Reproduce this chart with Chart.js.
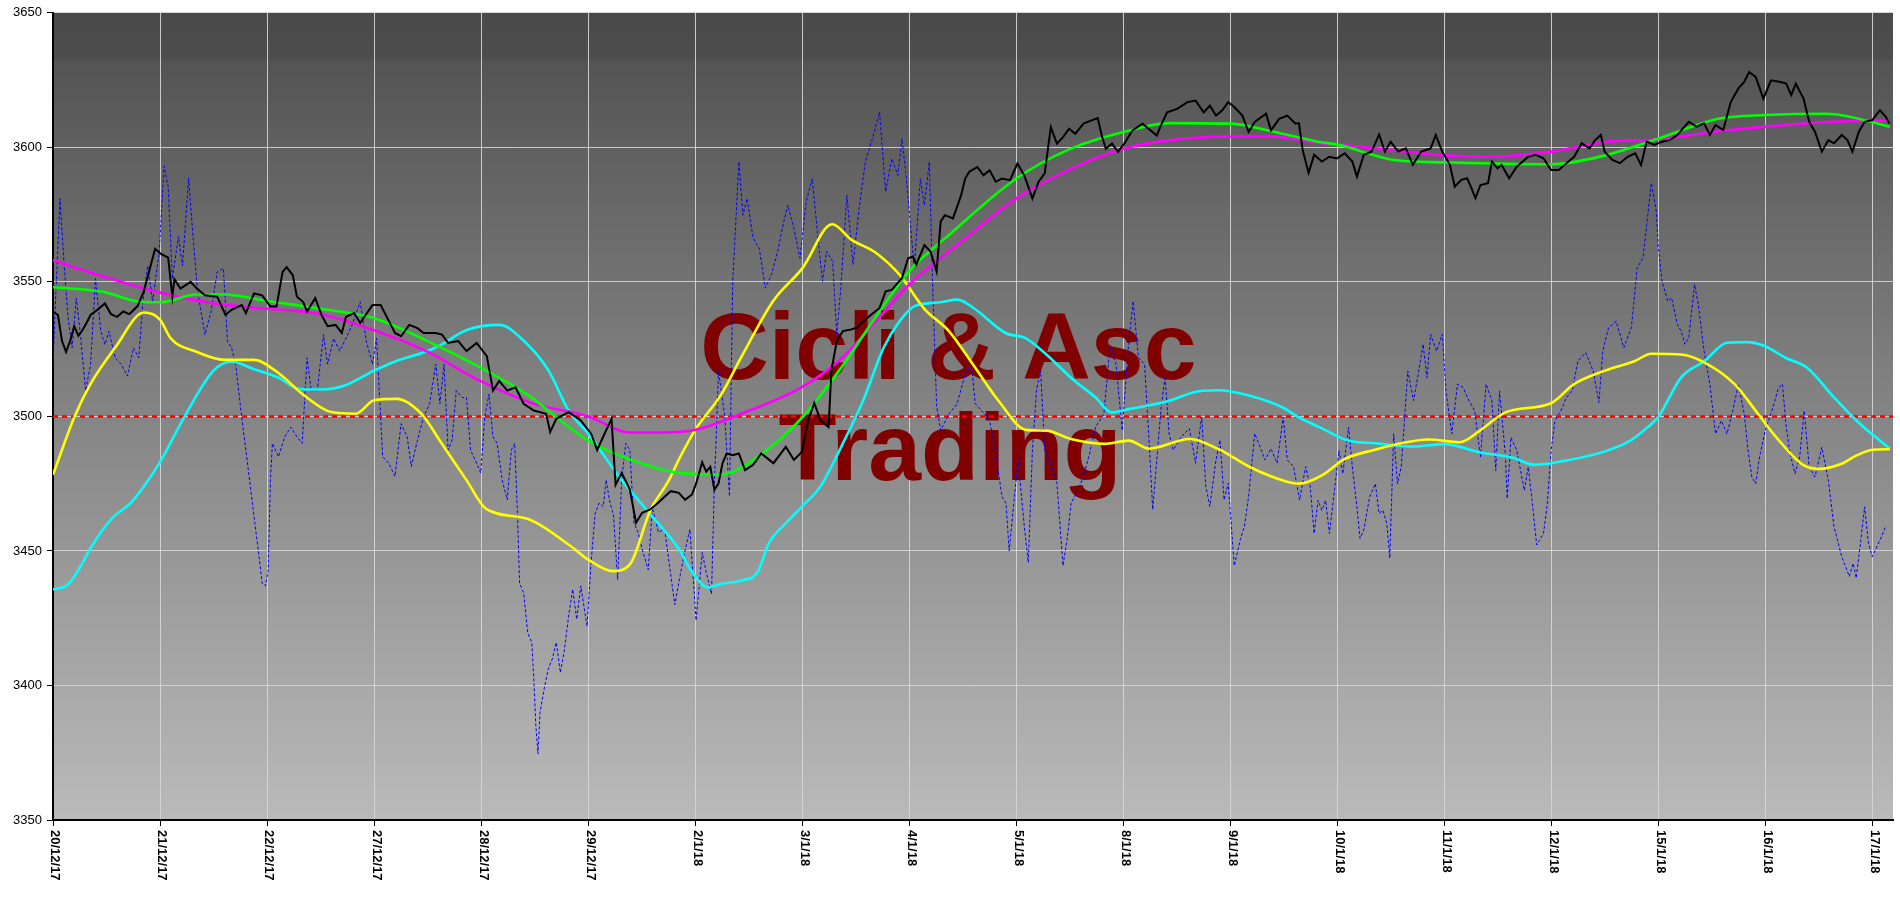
<!DOCTYPE html>
<html>
<head>
<meta charset="utf-8">
<script src="https://cdn.jsdelivr.net/npm/chart.js@4.4.1/dist/chart.umd.min.js"></script>
<style>
html,body{margin:0;padding:0;background:#fff;}
#wrap{width:1900px;height:899px;position:relative;}
</style>
</head>
<body>
<div id="wrap"><canvas id="c"></canvas></div>
<script>
// ---- Data (x = trading-day index, y = index level) ----
const dayLabels = ['20/12/17','21/12/17','22/12/17','27/12/17','28/12/17','29/12/17','2/1/18','3/1/18','4/1/18','5/1/18','8/1/18','9/1/18','10/1/18','11/1/18','12/1/18','15/1/18','16/1/18','17/1/18'];
const yTicks = [3350,3400,3450,3500,3550,3600,3650];
const xEnd = 17.19;
const refLevel = 3500;
const watermark = ['Cicli & Asc','Trading'];

const priceData = [
[0,3539],[0.046,3537.7],[0.084,3528],[0.122,3524],[0.16,3528],[0.198,3533.5],[0.237,3530],[0.275,3532],[0.313,3534.7],[0.351,3537.7],[0.427,3540],[0.485,3542],[0.542,3538],[0.599,3537],[0.656,3539],[0.714,3538],[0.79,3541],[0.847,3546.3],[0.905,3555],[0.954,3562.3],[1.008,3560.4],[1.076,3559],[1.115,3544.5],[1.134,3551],[1.191,3547.5],[1.286,3550],[1.344,3547.5],[1.42,3545],[1.534,3544.5],[1.611,3537.7],[1.668,3539.6],[1.763,3541.4],[1.802,3538.4],[1.878,3545.7],[1.954,3545],[2.031,3540.8],[2.088,3540.8],[2.145,3553.7],[2.183,3555.5],[2.24,3552.5],[2.279,3544.5],[2.336,3542.6],[2.374,3539],[2.45,3544],[2.508,3537.7],[2.565,3533.5],[2.641,3534],[2.698,3531],[2.737,3537],[2.813,3538.4],[2.87,3534.7],[2.985,3541.4],[3.061,3541.4],[3.118,3537],[3.195,3531],[3.252,3529.8],[3.328,3534],[3.405,3532.8],[3.462,3531],[3.576,3531],[3.634,3530.4],[3.691,3527.3],[3.786,3528],[3.863,3524.3],[3.958,3527.3],[4.053,3522.4],[4.111,3509.6],[4.168,3513.2],[4.244,3509.6],[4.321,3510.8],[4.397,3504.7],[4.492,3502.2],[4.607,3501],[4.645,3494.2],[4.702,3499.1],[4.817,3501.6],[4.931,3498.5],[5.027,3493.6],[5.084,3487.5],[5.16,3494.2],[5.218,3499],[5.256,3474.6],[5.313,3479],[5.389,3472.8],[5.447,3460.5],[5.504,3464.2],[5.58,3465.4],[5.656,3468],[5.771,3472.2],[5.847,3471.6],[5.905,3469],[5.97,3471],[6.008,3475],[6.065,3483],[6.103,3479.5],[6.141,3481.3],[6.179,3472.7],[6.217,3475],[6.255,3482.6],[6.293,3486.2],[6.35,3485.6],[6.408,3486.2],[6.465,3480],[6.541,3482],[6.617,3486.2],[6.674,3484.4],[6.731,3482.6],[6.846,3488.7],[6.922,3483.8],[6.998,3486.9],[7.055,3498.5],[7.112,3505],[7.17,3498.5],[7.246,3496],[7.272,3516.9],[7.322,3528],[7.379,3531.7],[7.455,3532.3],[7.512,3533],[7.57,3535.4],[7.646,3537.9],[7.722,3540.3],[7.779,3546.5],[7.836,3547],[7.931,3551.4],[7.989,3558.8],[8.034,3559.4],[8.065,3556.4],[8.141,3563.7],[8.198,3561.3],[8.255,3553.9],[8.293,3572.4],[8.331,3574.8],[8.408,3573.6],[8.484,3582.2],[8.522,3588.4],[8.56,3590.9],[8.636,3592.7],[8.693,3589.6],[8.75,3591.5],[8.808,3587.2],[8.865,3588.4],[8.941,3587.8],[9.01,3594],[9.074,3589.6],[9.15,3581],[9.208,3587.2],[9.265,3590.3],[9.322,3607.5],[9.379,3601.4],[9.436,3603.8],[9.493,3606.9],[9.55,3605],[9.627,3608.8],[9.703,3610],[9.76,3610.9],[9.798,3604.4],[9.836,3599.5],[9.893,3601.4],[9.95,3598.3],[10.008,3601.4],[10.084,3606.3],[10.179,3608.8],[10.236,3606.9],[10.312,3604.4],[10.35,3608.1],[10.408,3613],[10.503,3614.3],[10.598,3616.8],[10.674,3617.4],[10.75,3613],[10.808,3615.5],[10.865,3611.8],[10.922,3613.7],[10.979,3616.8],[11.036,3615],[11.112,3611.8],[11.17,3605.7],[11.227,3609.4],[11.333,3612.5],[11.379,3606.3],[11.455,3610.6],[11.531,3611.8],[11.608,3608.8],[11.64,3609],[11.675,3599],[11.73,3590.5],[11.782,3597.2],[11.854,3594.7],[11.925,3596.5],[11.996,3595.9],[12.068,3597.8],[12.139,3594.7],[12.182,3589.1],[12.246,3597.2],[12.318,3598.4],[12.389,3604.8],[12.443,3598.4],[12.496,3602.1],[12.568,3598.4],[12.639,3599.6],[12.704,3593.5],[12.782,3598.4],[12.871,3599.6],[12.918,3604.6],[12.979,3598.4],[13.05,3593.5],[13.096,3585.4],[13.157,3587.9],[13.211,3588.5],[13.246,3585.4],[13.289,3581.1],[13.336,3586],[13.407,3586.7],[13.443,3594.7],[13.496,3592.2],[13.532,3593.5],[13.604,3588.5],[13.675,3592.8],[13.782,3596.5],[13.854,3597.2],[13.925,3595.9],[13.996,3591.6],[14.068,3591.6],[14.139,3594.1],[14.211,3596.5],[14.282,3601.5],[14.354,3599.6],[14.407,3602.7],[14.461,3604.6],[14.496,3598.4],[14.568,3595.3],[14.639,3594.1],[14.711,3596.5],[14.782,3597.8],[14.836,3593.5],[14.889,3602.1],[14.961,3600.9],[15.032,3602.1],[15.104,3602.7],[15.175,3604.6],[15.282,3609.5],[15.354,3607.7],[15.425,3608.9],[15.479,3604.6],[15.532,3608.3],[15.604,3606.4],[15.675,3616.9],[15.746,3621.9],[15.8,3624.3],[15.846,3628],[15.907,3626.2],[15.979,3618.1],[16.05,3624.9],[16.139,3624.3],[16.193,3623.7],[16.239,3619.4],[16.282,3623.7],[16.354,3618.1],[16.407,3609.5],[16.461,3605.8],[16.525,3598.4],[16.586,3602.7],[16.639,3601.5],[16.711,3604.6],[16.764,3602.7],[16.811,3598.4],[16.871,3605.8],[16.925,3609.5],[16.996,3610.1],[17.068,3613.8],[17.121,3611.4],[17.157,3608.9]
];

const oscData = [
[0,3519.4],[0.027,3546],[0.065,3581],[0.103,3557],[0.141,3536.5],[0.179,3525.5],[0.218,3544],[0.256,3530.4],[0.305,3509.6],[0.351,3519.4],[0.397,3551.2],[0.447,3531.6],[0.485,3526.7],[0.523,3531.6],[0.58,3521.8],[0.637,3519.4],[0.695,3515],[0.752,3525.5],[0.802,3521.8],[0.84,3542.6],[0.885,3556],[0.931,3542.6],[0.992,3561],[1.038,3593],[1.076,3585.5],[1.115,3551.2],[1.172,3567],[1.21,3556],[1.267,3588.6],[1.305,3568.4],[1.351,3546.3],[1.42,3530.4],[1.477,3539],[1.534,3553.7],[1.592,3555],[1.63,3528],[1.668,3525.5],[1.706,3519.4],[1.763,3499.8],[1.821,3481.4],[1.859,3469],[1.916,3450.7],[1.954,3438],[1.985,3437],[2.011,3443],[2.031,3476],[2.05,3490],[2.107,3485],[2.164,3492.4],[2.221,3496],[2.279,3492.4],[2.328,3490],[2.374,3521.8],[2.412,3509.6],[2.469,3509.6],[2.527,3530.4],[2.565,3519.4],[2.622,3529],[2.679,3524.3],[2.737,3529],[2.794,3534],[2.87,3542.6],[2.927,3528],[2.985,3519.4],[3.023,3529],[3.08,3485],[3.137,3482.6],[3.195,3477.7],[3.252,3497.3],[3.309,3492.4],[3.347,3481.4],[3.405,3491.2],[3.462,3499.8],[3.519,3504.7],[3.576,3519.4],[3.615,3504.7],[3.653,3519.4],[3.691,3487.5],[3.729,3491.2],[3.767,3509.6],[3.824,3507],[3.863,3507],[3.901,3487.5],[3.958,3482.6],[3.996,3479],[4.034,3499.8],[4.073,3508.3],[4.111,3492.4],[4.149,3490],[4.198,3476],[4.244,3469],[4.282,3487.5],[4.313,3490],[4.34,3463],[4.359,3438],[4.397,3434.4],[4.435,3419.6],[4.473,3416],[4.492,3402.3],[4.511,3385],[4.531,3374.6],[4.55,3390],[4.588,3398.6],[4.626,3406],[4.664,3409.8],[4.702,3416],[4.74,3404.8],[4.779,3413.5],[4.817,3425.8],[4.855,3435.7],[4.893,3424.6],[4.931,3437],[4.989,3422],[5.027,3445.6],[5.065,3464],[5.103,3467.8],[5.141,3466.5],[5.168,3476.4],[5.198,3469],[5.237,3463],[5.275,3439.4],[5.313,3476.5],[5.351,3490],[5.389,3487.5],[5.427,3460.5],[5.466,3456.9],[5.504,3450.7],[5.561,3443],[5.599,3466],[5.656,3457],[5.714,3458],[5.809,3430],[5.855,3440],[5.893,3448],[5.95,3458],[6.008,3424.2],[6.065,3449.4],[6.103,3442],[6.152,3434],[6.179,3475],[6.198,3494.7],[6.217,3516.9],[6.274,3500.9],[6.32,3470.3],[6.35,3550.2],[6.408,3594.6],[6.446,3574.8],[6.484,3581],[6.541,3566.2],[6.598,3562.5],[6.655,3547.7],[6.712,3552.7],[6.77,3561.3],[6.827,3572.4],[6.865,3578.5],[6.922,3569.9],[6.979,3558.8],[7.036,3579.8],[7.093,3588.4],[7.15,3565],[7.189,3550.2],[7.227,3561.3],[7.284,3557.6],[7.322,3530.5],[7.36,3547.7],[7.417,3582.2],[7.474,3556.4],[7.531,3577.3],[7.589,3594.6],[7.646,3602],[7.722,3613],[7.779,3583.5],[7.836,3595.8],[7.893,3589.6],[7.931,3603.2],[7.97,3589.6],[8.008,3572.4],[8.046,3555.1],[8.103,3588.4],[8.141,3578.5],[8.187,3594.6],[8.217,3550.2],[8.255,3504],[8.293,3494.8],[8.37,3500.9],[8.446,3504.6],[8.522,3515.7],[8.579,3519.4],[8.617,3504.7],[8.674,3502.2],[8.75,3498.5],[8.808,3486.2],[8.865,3470.3],[8.903,3467.8],[8.933,3450],[8.979,3469],[9.017,3483.8],[9.074,3459.2],[9.112,3445.7],[9.15,3487.5],[9.189,3510],[9.227,3516.9],[9.265,3487.5],[9.322,3482.6],[9.379,3475.2],[9.436,3444.5],[9.474,3454.3],[9.512,3467.8],[9.57,3472.1],[9.627,3477.6],[9.684,3486.2],[9.741,3496.1],[9.817,3500.9],[9.874,3525.5],[9.931,3519.4],[9.989,3494.8],[10.046,3525.5],[10.091,3542.8],[10.141,3521.8],[10.198,3519.4],[10.236,3493.6],[10.274,3465.4],[10.312,3483.8],[10.35,3502.2],[10.389,3515],[10.427,3493.6],[10.465,3487.5],[10.541,3492.4],[10.617,3495.5],[10.674,3482.6],[10.731,3499.8],[10.77,3474],[10.808,3466.6],[10.865,3483.8],[10.903,3491.2],[10.941,3469],[10.979,3475.2],[11.036,3444.5],[11.093,3454.3],[11.131,3459.2],[11.17,3470.3],[11.227,3493.6],[11.265,3489.9],[11.322,3483.8],[11.379,3488],[11.436,3482.6],[11.493,3499.8],[11.531,3483.8],[11.589,3481.3],[11.646,3469],[11.703,3481.3],[11.746,3473.8],[11.782,3456.5],[11.818,3468.8],[11.854,3465.1],[11.889,3468.8],[11.925,3456.5],[11.979,3475],[12.014,3487.3],[12.05,3478.7],[12.104,3496],[12.139,3481.2],[12.175,3468.8],[12.211,3454.7],[12.246,3457.8],[12.3,3470],[12.354,3475],[12.389,3463.9],[12.425,3465.1],[12.461,3460.2],[12.489,3447.3],[12.525,3493.5],[12.561,3475],[12.596,3481.2],[12.632,3502.1],[12.657,3516.9],[12.711,3505.8],[12.764,3518.1],[12.8,3526.8],[12.836,3514.4],[12.871,3530.5],[12.925,3524.3],[12.979,3530.5],[13.014,3509.5],[13.068,3493.5],[13.121,3512],[13.175,3510.7],[13.229,3505.8],[13.282,3502.1],[13.336,3484.9],[13.389,3512],[13.443,3505.8],[13.479,3479.9],[13.514,3509.5],[13.568,3486],[13.586,3469.5],[13.621,3492.2],[13.675,3487.3],[13.746,3472.5],[13.782,3481.2],[13.818,3468.8],[13.861,3452.2],[13.925,3456.5],[13.961,3467.6],[13.996,3487.3],[14.032,3498.4],[14.086,3502.1],[14.139,3507],[14.193,3509.5],[14.246,3520.6],[14.318,3523.7],[14.389,3516.9],[14.443,3505.2],[14.479,3524.3],[14.532,3532.9],[14.604,3535.4],[14.675,3525.5],[14.746,3533],[14.8,3555.2],[14.854,3558.9],[14.889,3571.2],[14.932,3586.7],[14.979,3576.2],[14.996,3563.8],[15.032,3550.2],[15.086,3542.8],[15.121,3544.1],[15.175,3534.2],[15.211,3531.7],[15.246,3526.8],[15.282,3529.3],[15.336,3549],[15.371,3541.6],[15.425,3524.3],[15.479,3512],[15.532,3493.5],[15.586,3498.4],[15.639,3493.5],[15.693,3502.1],[15.746,3512],[15.8,3500.9],[15.836,3487.3],[15.871,3477.5],[15.907,3475],[15.943,3484.9],[15.996,3494.7],[16.068,3503.3],[16.121,3510.7],[16.157,3512],[16.193,3495.9],[16.229,3486],[16.275,3478.7],[16.318,3484.9],[16.361,3502.1],[16.407,3481.2],[16.461,3477.5],[16.525,3488.5],[16.586,3476.2],[16.639,3459],[16.711,3447.9],[16.782,3440.5],[16.818,3445.4],[16.846,3439.9],[16.889,3454],[16.925,3466.4],[16.961,3452.8],[16.996,3447.9],[17.068,3454],[17.121,3459]
];

const greenData = [
[0,3548],[0.47,3546.3],[0.81,3542.6],[1,3542.4],[1.34,3545.3],[1.6,3545.3],[2,3542.9],[2.5,3540],[3,3536.5],[3.5,3528],[4,3518],[4.47,3507],[4.74,3498.5],[5,3491],[5.39,3484],[5.86,3479],[6.24,3478.4],[6.62,3486],[7,3499.6],[7.38,3519],[7.68,3536.6],[8,3554],[8.37,3567.4],[9,3588.4],[9.51,3599.5],[10,3605.7],[10.43,3609],[11,3608.8],[11.38,3606],[11.83,3602],[12,3601],[12.53,3595.3],[13,3594.4],[13.43,3594],[14,3593.7],[14.5,3597],[15,3603.3],[15.57,3610.7],[16,3612],[16.57,3612.5],[17.16,3607.7]
];

const magentaData = [
[0,3558],[0.47,3552],[1,3546],[1.5,3542],[2,3540],[2.5,3538],[3,3532],[3.5,3524],[4,3513],[4.47,3505],[5,3500],[5.39,3494],[5.7,3494],[6,3495],[6.43,3501],[7,3511],[7.38,3522],[7.68,3535],[8,3549],[8.52,3566],[9,3581],[9.51,3592],[10,3599.5],[10.43,3602.6],[11,3604],[11.38,3604],[11.83,3601.6],[12,3601],[12.35,3599.6],[13,3597],[13.43,3596.5],[14,3598.4],[14.5,3602],[15,3603],[15.57,3606],[16,3607.7],[16.64,3609.5],[17.16,3610]
];

const yellowData = [
[0,3478.3],[0.2,3499.8],[0.35,3512],[0.58,3525.5],[0.85,3538.6],[1,3536],[1.1,3529],[1.34,3524],[1.6,3521],[1.88,3521],[2.1,3516.3],[2.34,3508],[2.6,3501.6],[2.83,3501],[3,3506],[3.21,3506.5],[3.44,3501],[3.63,3490],[3.86,3476.5],[4.05,3465.5],[4.43,3462],[4.82,3452.3],[5,3446.8],[5.23,3442.5],[5.39,3445],[5.58,3465],[5.75,3476],[5.86,3485],[6,3495],[6.24,3508],[6.43,3522],[6.73,3543],[7,3555],[7.28,3571.4],[7.46,3565.6],[7.68,3561],[7.91,3552.6],[8.14,3540],[8.37,3531.7],[8.6,3519],[8.83,3506],[9.09,3495],[9.28,3494.7],[9.51,3491.6],[9.82,3489.8],[10.05,3491],[10.24,3488],[10.62,3491.6],[10.88,3488],[11.19,3481],[11.49,3476.2],[11.64,3475],[11.85,3478],[12.07,3484.2],[12.35,3487.6],[12.57,3489.8],[12.85,3491.4],[13.14,3490.4],[13.35,3495.3],[13.57,3501.5],[14,3505],[14.21,3512],[14.5,3517],[14.78,3520.6],[14.93,3523.3],[15.21,3523],[15.43,3520],[15.71,3512],[15.93,3500.9],[16.1,3492.2],[16.35,3482],[16.5,3480.5],[16.71,3482.4],[16.85,3485.5],[17,3487.6],[17.16,3487.8]
];

const cyanData = [
[0,3435.7],[0.14,3437.5],[0.26,3444.4],[0.35,3451],[0.54,3461.6],[0.73,3468],[0.85,3474],[1,3483],[1.23,3500],[1.5,3517],[1.67,3520.3],[1.88,3517.5],[2.1,3514.5],[2.3,3510.2],[2.5,3510],[2.72,3511.4],[3,3517],[3.21,3520.6],[3.48,3524],[3.63,3526.7],[3.86,3532],[4.17,3534],[4.4,3528],[4.63,3517],[4.82,3502],[5,3493.6],[5.31,3476.5],[5.62,3461.8],[5.86,3450],[5.95,3443.4],[6.12,3436.5],[6.24,3437.7],[6.43,3439],[6.58,3442],[6.69,3453],[6.85,3460.4],[7,3466.6],[7.17,3474],[7.38,3490],[7.57,3506],[7.76,3525.5],[7.91,3535.4],[8.05,3541],[8.29,3542.4],[8.45,3543.4],[8.6,3540.3],[8.9,3531],[9.09,3529],[9.28,3523],[9.51,3514.4],[9.74,3507],[9.89,3501.5],[10.05,3502.7],[10.43,3505.8],[10.66,3509],[10.88,3509.7],[11.19,3507.6],[11.49,3503.3],[11.64,3499.6],[11.83,3496],[12.1,3491],[12.35,3490],[12.71,3488.8],[13,3489.7],[13.32,3486.7],[13.64,3484.6],[13.84,3482],[14.14,3483.6],[14.5,3487],[14.71,3490.4],[14.86,3494.7],[15,3500],[15.21,3514.4],[15.43,3520.6],[15.64,3527.4],[15.82,3527.6],[16,3526],[16.18,3521.9],[16.39,3518],[16.64,3507],[16.85,3498.4],[17.16,3488]
];

const toXY = arr => arr.map(p => ({x: p[0], y: p[1]}));

// ---- plugins ----
const bgPlugin = {
  id: 'bg',
  beforeDraw(chart) {
    const {ctx, chartArea: a} = chart;
    const g = ctx.createLinearGradient(0, a.top, 0, a.bottom);
    g.addColorStop(0, 'rgb(74,74,74)');
    g.addColorStop(0.057, 'rgb(77,77,77)');
    g.addColorStop(0.06, 'rgb(84,84,84)');
    g.addColorStop(0.5, 'rgb(133,133,133)');
    g.addColorStop(1, 'rgb(186,186,186)');
    ctx.save();
    ctx.fillStyle = g;
    ctx.fillRect(a.left, a.top, a.right - a.left, a.bottom - a.top);
    ctx.restore();
  }
};

const markPlugin = {
  id: 'mark',
  beforeDatasetsDraw(chart) {
    const {ctx, chartArea: a} = chart;
    const w = a.right - a.left, h = a.bottom - a.top;
    ctx.save();
    ctx.fillStyle = '#800000';
    ctx.textAlign = 'center';
    ctx.textBaseline = 'alphabetic';
    ctx.font = 'bold 95px "Liberation Sans", Arial, sans-serif';
    ctx.fillText(watermark[0], a.left + w * 0.4866, a.top + h * 0.4531);
    ctx.fillText(watermark[1], a.left + w * 0.4875, a.top + h * 0.5790);
    ctx.restore();
  }
};

const xLabelPlugin = {
  id: 'xlabels',
  afterDraw(chart) {
    const {ctx} = chart;
    const xs = chart.scales.x;
    ctx.save();
    ctx.fillStyle = '#000';
    ctx.font = 'bold 13px "Liberation Sans", Arial, sans-serif';
    ctx.textAlign = 'left';
    ctx.textBaseline = 'middle';
    dayLabels.forEach((lab, i) => {
      const px = xs.getPixelForValue(i);
      ctx.save();
      ctx.translate(px + 2, xs.top + 10);
      ctx.rotate(Math.PI / 2);
      ctx.fillText(lab, 0, 0);
      ctx.restore();
    });
    ctx.restore();
  }
};

new Chart(document.getElementById('c'), {
  type: 'line',
  data: {
    datasets: [
      {label: 'Prezzo', data: toXY(priceData), borderColor: '#000000', borderWidth: 2, pointRadius: 0, tension: 0},
      {label: 'Media 1', data: toXY(greenData), borderColor: '#00ff00', borderWidth: 2.6, pointRadius: 0, tension: 0.4, cubicInterpolationMode: 'monotone'},
      {label: 'Media 2', data: toXY(magentaData), borderColor: '#ff00ff', borderWidth: 2.6, pointRadius: 0, tension: 0.4, cubicInterpolationMode: 'monotone'},
      {label: 'Ciclo 1', data: toXY(yellowData), borderColor: '#ffff00', borderWidth: 2.6, pointRadius: 0, tension: 0.4, cubicInterpolationMode: 'monotone'},
      {label: 'Ciclo 2', data: toXY(cyanData), borderColor: '#00ffff', borderWidth: 2.6, pointRadius: 0, tension: 0.4, cubicInterpolationMode: 'monotone'},
      {label: 'Oscillatore', data: toXY(oscData), borderColor: '#0000ff', borderWidth: 1, borderDash: [3, 2], pointRadius: 0, tension: 0},
      {label: 'Livello', data: [{x: 0, y: refLevel}, {x: xEnd, y: refLevel}], borderColor: '#ff0000', borderWidth: 2.5, borderDash: [5, 4], pointRadius: 0}
    ]
  },
  options: {
    responsive: true,
    maintainAspectRatio: false,
    animation: false,
    events: [],
    layout: {padding: {top: 10, right: 7, left: 0, bottom: 0}},
    plugins: {legend: {display: false}, tooltip: {enabled: false}},
    scales: {
      x: {
        type: 'linear',
        min: 0,
        max: xEnd,
        afterBuildTicks(scale) {
          scale.ticks = dayLabels.map((l, i) => ({value: i}));
        },
        afterFit(scale) { scale.height = 79; },
        ticks: {display: false, stepSize: 1},
        grid: {color: 'rgba(215,215,215,0.9)', lineWidth: 1, tickLength: 6, tickColor: '#000', drawTicks: true},
        border: {display: true, color: '#000', width: 2}
      },
      y: {
        min: yTicks[0],
        max: yTicks[yTicks.length - 1],
        afterBuildTicks(scale) {
          scale.ticks = yTicks.map(v => ({value: v}));
        },
        afterFit(scale) { scale.width = 53; },
        ticks: {color: '#000', padding: 5, callback: v => String(v), font: {family: '"Liberation Sans", Arial, sans-serif', size: 13}},
        grid: {color: 'rgba(215,215,215,0.9)', lineWidth: 1, tickLength: 6, tickColor: '#000'},
        border: {display: true, color: '#000', width: 2}
      }
    }
  },
  plugins: [bgPlugin, markPlugin, xLabelPlugin]
});
</script>
</body>
</html>
